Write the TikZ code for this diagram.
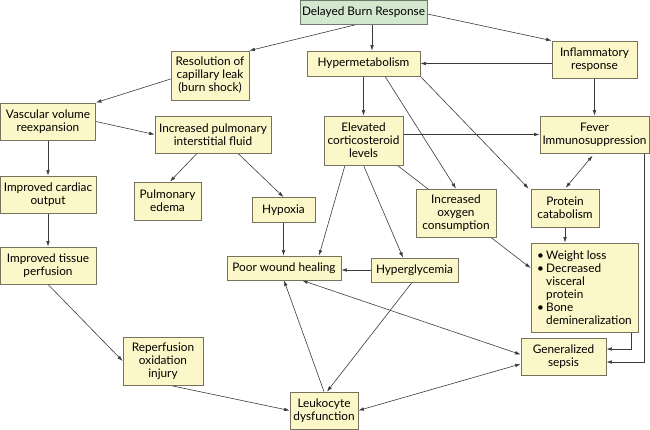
\documentclass[tikz,border=0pt]{standalone}
\usepackage{fontspec}
\setmainfont{Lato}
\usetikzlibrary{arrows.meta,calc}
\pgfdeclarelayer{bg}
\pgfsetlayers{bg,main}
\definecolor{boxfill}{HTML}{FCF7C8}
\definecolor{boxline}{HTML}{77725E}
\definecolor{grnfill}{HTML}{D4E8D0}
\definecolor{grnline}{HTML}{6E7A6E}
\definecolor{edgecol}{HTML}{3A3A3A}
\begin{document}
\begin{tikzpicture}[x=1pt,y=-1pt,
  box/.style={draw=boxline,fill=boxfill,line width=0.8pt,align=center,inner sep=0pt,
    font=\fontsize{11.8}{13}\selectfont},
  gbox/.style={box,draw=grnline,fill=grnfill},
  sz/.style 2 args={minimum width=#1pt,minimum height=#2pt},
  arr/.style={draw=edgecol,line width=0.6pt,-{Latex[length=5.5pt,width=3.6pt]}},
  darr/.style={draw=edgecol,line width=0.6pt,{Latex[length=5.5pt,width=3.6pt]}-{Latex[length=5.5pt,width=3.6pt]}},
  ln/.style={draw=edgecol,line width=0.6pt}
]
\useasboundingbox (0,0) rectangle (650,430);

\node[gbox,sz={127}{24}] (drb) at (363.5,12.5) {Delayed Burn Response};
\node[box,sz={78}{49}] (res) at (210,75.5) {Resolution of\\capillary leak\\(burn shock)};
\node[box,sz={113}{25}] (hyp) at (363.5,63.5) {Hypermetabolism};
\node[box,sz={85}{37}] (inf) at (594.5,59.5) {Inflammatory\\response};
\node[box,sz={95}{37}] (vas) at (48,121.5) {Vascular volume\\reexpansion};
\node[box,sz={116}{37}] (ipf) at (213,134.5) {Increased pulmonary\\interstitial fluid};
\node[box,sz={79}{49}] (ecl) at (363.5,140.5) {Elevated\\corticosteroid\\levels};
\node[box,sz={109}{37}] (fev) at (594.5,134.5) {Fever\\Immunosuppression};
\node[box,sz={96}{37}] (ico) at (48,194.5) {Improved cardiac\\output};
\node[box,sz={67}{38}] (ped) at (167.5,201) {Pulmonary\\edema};
\node[box,sz={63}{25}] (hpx) at (283.5,210) {Hypoxia};
\node[box,sz={80}{48}] (ioc) at (456,213) {Increased\\oxygen\\consumption};
\node[box,sz={68}{38}] (pcat) at (565,208) {Protein\\catabolism};
\node[box,sz={96}{37}] (itp) at (48,265.5) {Improved tissue\\perfusion};
\node[box,sz={114}{24}] (pwh) at (284,268) {Poor wound healing};
\node[box,sz={87}{24}] (hgl) at (414.5,270) {Hyperglycemia};
\node[box,sz={107}{89},align=left] (bul) at (584.5,287.5)
  {\makebox[9pt][l]{\textbullet}Weight loss\\
   \makebox[9pt][l]{\textbullet}Decreased\\
   \hspace*{9pt}visceral\\
   \hspace*{9pt}protein\\
   \makebox[9pt][l]{\textbullet}Bone\\
   \hspace*{9pt}demineralization};
\node[box,sz={85}{37}] (gse) at (563.5,356.5) {Generalized\\sepsis};
\node[box,sz={80}{48}] (rep) at (163,361) {Reperfusion\\oxidation\\injury};
\node[box,sz={68}{37}] (leu) at (324,410.5) {Leukocyte\\dysfunction};

\begin{pgfonlayer}{bg}
\draw[arr] ([xshift=-8.5pt]drb.south) -- (res.north east);
\draw[arr] ([xshift=8.5pt]drb.south) -- ([xshift=8.5pt]drb.south |- hyp.north);
\draw[arr] ([yshift=-1.5pt]drb.east) -- (inf.north west);
\draw[arr] (inf.west |- hyp.east) -- (hyp.east);
\draw[arr] (inf.south) -- (fev.north);
\draw[arr] ([yshift=-3.5pt]res.west) -- (vas.north east);
\draw[arr] (vas.east) -- (ipf.west);
\draw[arr] (vas.south) -- (ico.north);
\draw[arr] (ico.south) -- (itp.north);
\draw[arr] (itp.south) -- (rep.west);
\draw[arr] ([xshift=7pt]rep.south) -- (leu.west);
\draw[arr] ([xshift=-16pt]ipf.south) -- ([xshift=2.5pt]ped.north);
\draw[arr] ([xshift=25pt]ipf.south) -- (hpx.north);
\draw[arr] (hpx.south) -- (hpx.south |- pwh.north);
\draw[arr] (hyp.south) -- (hyp.south |- ecl.north);
\draw[arr] ([xshift=21.5pt]hyp.south) -- (ioc.north);
\draw[arr] (hyp.south east) -- ([xshift=-2pt]pcat.north west);
\draw[arr] (ecl.east |- fev.west) -- (fev.west);
\draw[arr] ([xshift=-18.5pt]ecl.south) -- ([xshift=35pt]pwh.north);
\draw[arr] (ecl.south) -- ([xshift=-11.5pt]hgl.north);
\draw[arr] ([xshift=-6pt]ecl.south east) -- ([yshift=19.5pt]bul.west);
\draw[darr,shorten <=3pt,shorten >=1pt] (fev.south) -- (pcat.north);
\draw[arr] (pcat.south) -- (pcat.south |- bul.north);
\draw[arr] ([xshift=46.5pt]bul.south) |- ([yshift=7.5pt]gse.east);
\draw[arr] ([xshift=49.5pt]fev.south) |- ([yshift=-5.5pt]gse.east);
\draw[arr] (hgl.west) -- (hgl.west -| pwh.east);
\draw[arr] ([xshift=-2.5pt]hgl.south) -- ([xshift=3pt]leu.north);
\draw[arr] (leu.north) -- (pwh.south);
\draw[darr] ([xshift=18pt]pwh.south) -- ([yshift=2pt]gse.west);
\draw[darr] (leu.east) -- ([yshift=-7.5pt]gse.west);
\end{pgfonlayer}
\end{tikzpicture}
\end{document}
